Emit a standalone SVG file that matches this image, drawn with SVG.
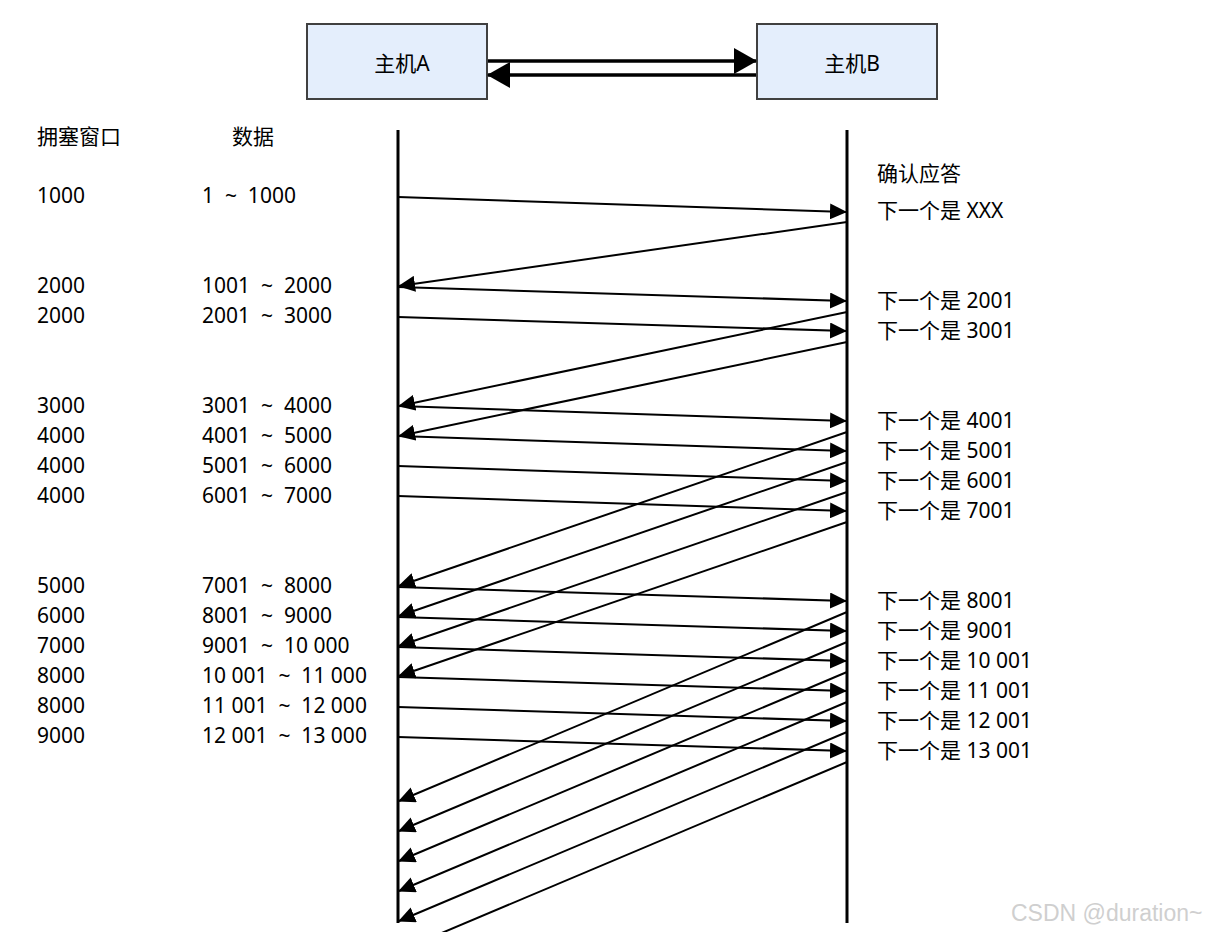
<svg xmlns="http://www.w3.org/2000/svg" width="1213" height="932" viewBox="0 0 1213 932">
<defs>
<style>
.t{font-family:"Noto Sans","Noto Sans CJK SC",sans-serif;font-size:21px;fill:#000;white-space:pre}
.box{fill:#e4eefc;stroke:#404040;stroke-width:2}
.life{stroke:#000;stroke-width:3;fill:none}
.msg{stroke:#000;stroke-width:2;fill:none;marker-end:url(#ah)}
.big{stroke:#000;stroke-width:3.5;fill:none;marker-end:url(#ahb)}
.wm{font-family:"Liberation Sans",Arial,sans-serif;font-size:23px;fill:#cfcfcf}
</style>
<marker id="ah" markerUnits="userSpaceOnUse" markerWidth="17" markerHeight="16" refX="16" refY="8" orient="auto">
<path d="M0,0 L17,8 L0,16 z" fill="#000"/>
</marker>
<marker id="ahb" markerUnits="userSpaceOnUse" markerWidth="23" markerHeight="26" refX="22" refY="13" orient="auto">
<path d="M0,0 L23,13 L0,26 z" fill="#000"/>
</marker>
</defs>
<rect width="1213" height="932" fill="#fff"/>
<g id="hostA"><rect class="box" x="307" y="24" width="180" height="75"/><text class="t" x="402" y="71" text-anchor="middle">主机A</text></g>
<g id="hostB"><rect class="box" x="757" y="24" width="180" height="75"/><text class="t" x="852" y="71" text-anchor="middle">主机B</text></g>
<g id="connectors">
<line class="big" x1="488" y1="61" x2="756" y2="61"/>
<line class="big" x1="756" y1="75" x2="488" y2="75"/>
<line class="life" x1="398" y1="130" x2="398" y2="923"/>
<line class="life" x1="847" y1="130" x2="847" y2="923"/>
<line class="msg" x1="398" y1="197" x2="846" y2="212"/>
<line class="msg" x1="398" y1="287" x2="846" y2="301"/>
<line class="msg" x1="398" y1="317" x2="846" y2="331"/>
<line class="msg" x1="398" y1="406" x2="846" y2="421"/>
<line class="msg" x1="398" y1="436" x2="846" y2="451"/>
<line class="msg" x1="398" y1="466" x2="846" y2="481"/>
<line class="msg" x1="398" y1="496" x2="846" y2="511"/>
<line class="msg" x1="398" y1="587" x2="846" y2="601"/>
<line class="msg" x1="398" y1="617" x2="846" y2="631"/>
<line class="msg" x1="398" y1="647" x2="846" y2="661"/>
<line class="msg" x1="398" y1="677" x2="846" y2="691"/>
<line class="msg" x1="398" y1="707" x2="846" y2="721"/>
<line class="msg" x1="398" y1="737" x2="846" y2="751"/>
<line class="msg" x1="847" y1="222" x2="399" y2="286"/>
<line class="msg" x1="847" y1="312" x2="399" y2="406"/>
<line class="msg" x1="847" y1="342" x2="399" y2="436"/>
<line class="msg" x1="847" y1="432" x2="399" y2="586"/>
<line class="msg" x1="847" y1="462" x2="399" y2="616"/>
<line class="msg" x1="847" y1="492" x2="399" y2="646"/>
<line class="msg" x1="847" y1="522" x2="399" y2="676"/>
<line class="msg" x1="847" y1="612" x2="399" y2="801"/>
<line class="msg" x1="847" y1="642" x2="399" y2="831"/>
<line class="msg" x1="847" y1="672" x2="399" y2="861"/>
<line class="msg" x1="847" y1="702" x2="399" y2="891"/>
<line class="msg" x1="847" y1="732" x2="399" y2="921"/>
<line class="msg" x1="847" y1="762" x2="399" y2="951"/>
</g>
<g id="labels-window">
<text class="t" x="37" y="144">拥塞窗口</text>
<text class="t" x="37" y="203">1000</text>
<text class="t" x="37" y="293">2000</text>
<text class="t" x="37" y="323">2000</text>
<text class="t" x="37" y="413">3000</text>
<text class="t" x="37" y="443">4000</text>
<text class="t" x="37" y="473">4000</text>
<text class="t" x="37" y="503">4000</text>
<text class="t" x="37" y="593">5000</text>
<text class="t" x="37" y="623">6000</text>
<text class="t" x="37" y="653">7000</text>
<text class="t" x="37" y="683">8000</text>
<text class="t" x="37" y="713">8000</text>
<text class="t" x="37" y="743">9000</text>
</g>
<g id="labels-data">
<text class="t" x="232" y="144">数据</text>
<text class="t" x="202" y="203">1  ~  1000</text>
<text class="t" x="202" y="293">1001  ~  2000</text>
<text class="t" x="202" y="323">2001  ~  3000</text>
<text class="t" x="202" y="413">3001  ~  4000</text>
<text class="t" x="202" y="443">4001  ~  5000</text>
<text class="t" x="202" y="473">5001  ~  6000</text>
<text class="t" x="202" y="503">6001  ~  7000</text>
<text class="t" x="202" y="593">7001  ~  8000</text>
<text class="t" x="202" y="623">8001  ~  9000</text>
<text class="t" x="202" y="653">9001  ~  10 000</text>
<text class="t" x="202" y="683">10 001  ~  11 000</text>
<text class="t" x="202" y="713">11 001  ~  12 000</text>
<text class="t" x="202" y="743">12 001  ~  13 000</text>
</g>
<g id="labels-ack">
<text class="t" x="877" y="181">确认应答</text>
<text class="t" x="877" y="218">下一个是 XXX</text>
<text class="t" x="877" y="308">下一个是 2001</text>
<text class="t" x="877" y="338">下一个是 3001</text>
<text class="t" x="877" y="428">下一个是 4001</text>
<text class="t" x="877" y="458">下一个是 5001</text>
<text class="t" x="877" y="488">下一个是 6001</text>
<text class="t" x="877" y="518">下一个是 7001</text>
<text class="t" x="877" y="608">下一个是 8001</text>
<text class="t" x="877" y="638">下一个是 9001</text>
<text class="t" x="877" y="668">下一个是 10 001</text>
<text class="t" x="877" y="698">下一个是 11 001</text>
<text class="t" x="877" y="728">下一个是 12 001</text>
<text class="t" x="877" y="758">下一个是 13 001</text>
</g>
<text class="wm" x="1011" y="921">CSDN @duration~</text>
</svg>
